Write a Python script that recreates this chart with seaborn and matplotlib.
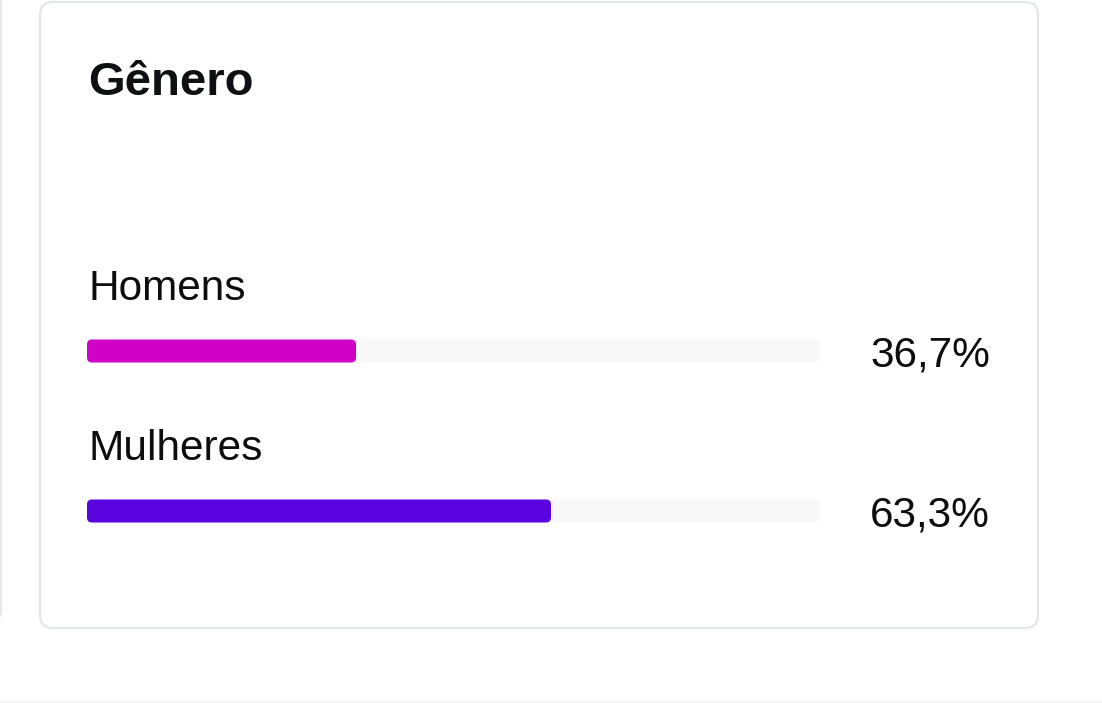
import matplotlib
matplotlib.use("Agg")
import matplotlib.pyplot as plt
from matplotlib.patches import FancyBboxPatch
import seaborn as sns
import pandas as pd

# data
categorias = ["Homens", "Mulheres"]
valores = [36.7, 63.3]
rotulos = ["36,7%", "63,3%"]
cores = ["#D100C7", "#5A04E0"]
titulo = "Gênero"

W, H = 1102, 703
sns.set_theme(style="white")
plt.rcParams['font.family'] = ['Liberation Sans', 'DejaVu Sans']

fig = plt.figure(figsize=(W / 100, H / 100), dpi=100)
bg = fig.add_axes([0, 0, 1, 1])
bg.set_xlim(0, W)
bg.set_ylim(H, 0)
bg.axis('off')

# cards
borda = "#E4E7E9"
bg.add_patch(FancyBboxPatch((-30, -30), 31, 652, boxstyle="round,pad=0,rounding_size=12",
                            fc="white", ec=borda, lw=1.5, zorder=1))
bg.add_patch(FancyBboxPatch((40, 2), 998, 626, boxstyle="round,pad=0,rounding_size=13",
                            fc="white", ec=borda, lw=1.6, zorder=1))
bg.plot([0, W], [702, 702], color="#F2F3F4", lw=1.2, zorder=1)

bg.text(88, 95, titulo, fontsize=34, fontweight='bold', color="#0E1013", va='baseline', zorder=3)

# bars axes (pixel layout)
x0, x1 = 87, 820
c0, step = 351, 160
top, bot = 300, 560
ax = fig.add_axes([x0 / W, 1 - bot / H, (x1 - x0) / W, (bot - top) / H])
df = pd.DataFrame({"categoria": categorias, "valor": valores, "total": [100] * len(valores)})
altura = 23 / step
sns.barplot(data=df, y="categoria", x="total", color="#F8F8F8", width=altura, ax=ax,
            orient='h', saturation=1)
sns.barplot(data=df, y="categoria", x="valor", hue="categoria", palette=cores, width=altura,
            ax=ax, orient='h', legend=False, saturation=1)
ax.set_xlim(0, 100)
ax.set_ylim(1 + (bot - c0 - step) / step, -(c0 - top) / step)
ax.axis('off')
fig.canvas.draw()

inv = bg.transData.inverted()
for i, p in enumerate(ax.patches):
    bb = p.get_window_extent()
    (px0, py0), (px1, py1) = inv.transform([[bb.x0, bb.y0], [bb.x1, bb.y1]])
    ya, yb = min(py0, py1), max(py0, py1)
    if bb.width < 1:
        continue
    bg.add_patch(FancyBboxPatch((px0, ya), px1 - px0, yb - ya,
                                boxstyle="round,pad=0,rounding_size=5",
                                fc=p.get_facecolor(), ec='none', zorder=2 + (i >= len(valores))))
    p.set_visible(False)

# labels
for i, (cat, lab) in enumerate(zip(categorias, rotulos)):
    yc = c0 + i * step
    bg.text(88, yc - 51, cat, fontsize=30.5, color="#0D0D0D", va='baseline', zorder=3)
    bg.text(990, yc + 16, lab, fontsize=30.5, color="#0D0D0D", va='baseline', ha='right', zorder=3)

fig.savefig("out.png", dpi=100, facecolor="white")
